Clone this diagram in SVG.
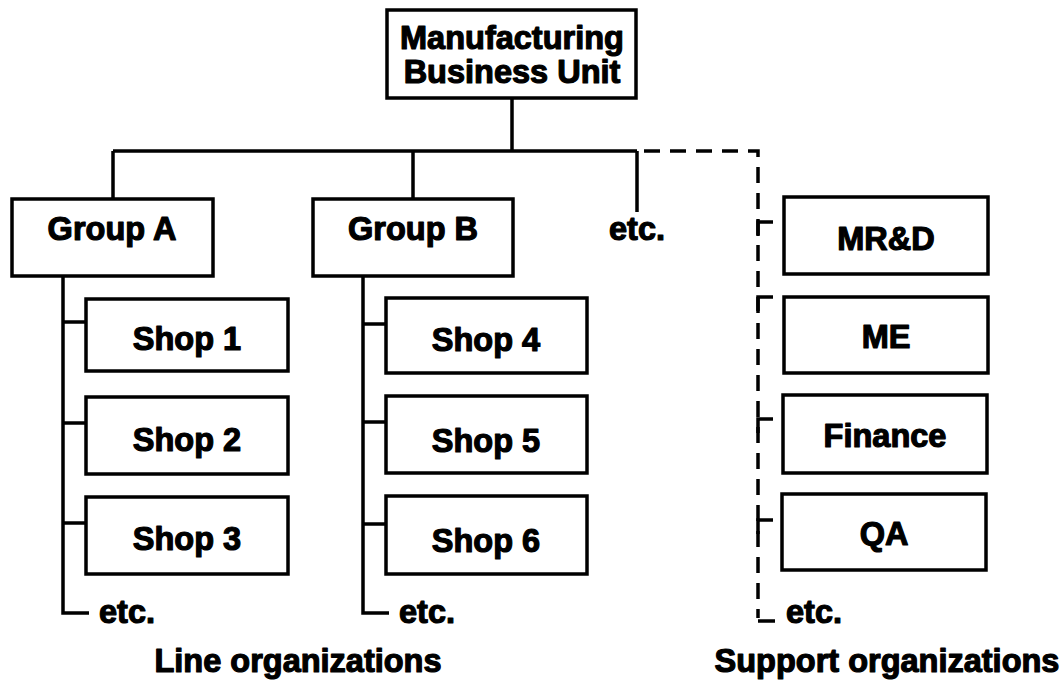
<svg xmlns="http://www.w3.org/2000/svg" width="1060" height="687" viewBox="0 0 1060 687">
  <style>
    .box { fill: #fff; stroke: #000; stroke-width: 3.5; }
    .lbl { font-family: "Liberation Sans", Arial, sans-serif; font-weight: bold; font-size: 32.5px; fill: #000; stroke: #000; stroke-width: 1.2; stroke-linejoin: round; text-anchor: middle; }
    .etc { text-anchor: start; }
    .ln { fill: none; stroke: #000; stroke-width: 3.5; }
    .dash { fill: none; stroke: #000; stroke-width: 3.5; stroke-dasharray: 16 10; }
  </style>
  <rect width="1060" height="687" fill="#fff"/>

  <!-- connectors -->
  <g id="connectors">
    <!-- top trunk and main bar -->
    <path class="ln" d="M512,98 V151 M113,151 H637 M113,151 V199 M413,151 V199 M637,151 V212"/>
    <!-- Group A spine -->
    <path class="ln" d="M63,276 V613 H89 M63,322 H86 M63,423 H86 M63,523 H86"/>
    <!-- Group B spine -->
    <path class="ln" d="M363,276 V613 H389 M363,324 H386 M363,422 H386 M363,524 H386"/>
    <!-- dotted-line support links -->
    <path class="dash" d="M644,151 H758 V618"/>
    <path class="ln" d="M773,222 H758 V236 M773,297 H758 V311 M773,419 H758 V433 M773,520 H758 V534 M758,621 H775"/>
  </g>

  <g id="node-mbu">
    <rect class="box" x="387" y="10" width="249" height="88"/>
    <text class="lbl" x="512" y="49">Manufacturing</text>
    <text class="lbl" x="512" y="83">Business Unit</text>
  </g>

  <g id="node-group-a">
    <rect class="box" x="12" y="199" width="201" height="77"/>
    <text class="lbl" x="112" y="240">Group A</text>
  </g>
  <g id="node-group-b">
    <rect class="box" x="313" y="199" width="200" height="77"/>
    <text class="lbl" x="413" y="240">Group B</text>
  </g>
  <g id="label-etc-groups">
    <text class="lbl etc" x="609" y="240">etc.</text>
  </g>

  <g id="node-shop1">
    <rect class="box" x="86" y="299" width="202" height="72"/>
    <text class="lbl" x="187" y="350">Shop 1</text>
  </g>
  <g id="node-shop2">
    <rect class="box" x="86" y="397" width="202" height="77"/>
    <text class="lbl" x="187" y="451">Shop 2</text>
  </g>
  <g id="node-shop3">
    <rect class="box" x="86" y="497" width="202" height="77"/>
    <text class="lbl" x="187" y="550">Shop 3</text>
  </g>
  <g id="label-etc-a">
    <text class="lbl etc" x="99" y="623">etc.</text>
  </g>

  <g id="node-shop4">
    <rect class="box" x="386" y="298" width="201" height="75"/>
    <text class="lbl" x="486" y="351">Shop 4</text>
  </g>
  <g id="node-shop5">
    <rect class="box" x="386" y="396" width="201" height="77"/>
    <text class="lbl" x="486" y="452">Shop 5</text>
  </g>
  <g id="node-shop6">
    <rect class="box" x="386" y="496" width="201" height="78"/>
    <text class="lbl" x="486" y="552">Shop 6</text>
  </g>
  <g id="label-etc-b">
    <text class="lbl etc" x="399" y="623">etc.</text>
  </g>

  <g id="node-mrd">
    <rect class="box" x="784" y="197" width="204" height="77"/>
    <text class="lbl" x="886" y="250">MR&amp;D</text>
  </g>
  <g id="node-me">
    <rect class="box" x="784" y="297" width="204" height="76"/>
    <text class="lbl" x="886" y="348">ME</text>
  </g>
  <g id="node-finance">
    <rect class="box" x="783" y="395" width="204" height="78"/>
    <text class="lbl" x="885" y="447">Finance</text>
  </g>
  <g id="node-qa">
    <rect class="box" x="782" y="494" width="204" height="76"/>
    <text class="lbl" x="884" y="545">QA</text>
  </g>
  <g id="label-etc-support">
    <text class="lbl etc" x="786" y="623">etc.</text>
  </g>

  <g id="captions">
    <text class="lbl" x="298" y="672">Line organizations</text>
    <text class="lbl" x="887" y="672">Support organizations</text>
  </g>
</svg>
